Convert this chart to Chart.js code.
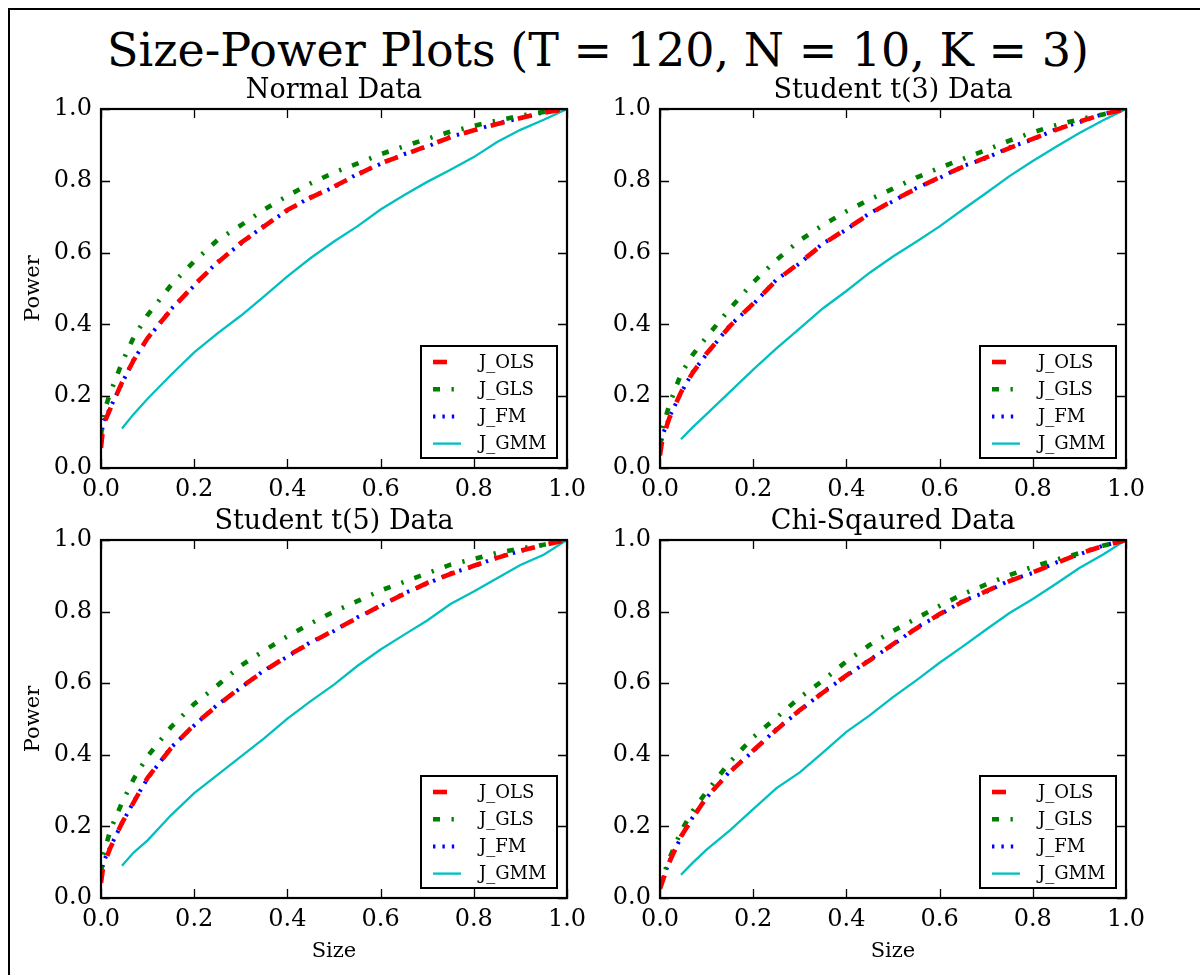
<!DOCTYPE html>
<html>
<head>
<meta charset="utf-8">
<script src="https://cdn.jsdelivr.net/npm/chart.js@4.4.1/dist/chart.umd.min.js"></script>
<style>
  html, body { margin: 0; padding: 0; background: #fff; overflow: hidden; }
  body { width: 1200px; height: 975px; position: relative; }
  #frame { position: absolute; left: 8px; top: 8px; width: 1200px; height: 1000px; border: 2px solid #000; box-sizing: border-box; }
  #suptitle { position: absolute; left: 0; width: 1196px; top: 20px; text-align: center;
    font-family: "DejaVu Serif"; font-size: 46px; line-height: 60px; color: #000; }
  canvas { position: absolute; }
</style>
</head>
<body>
<div id="frame"></div>
<div id="suptitle">Size-Power Plots (T = 120, N = 10, K = 3)</div>
<canvas id="c0"></canvas>
<canvas id="c1"></canvas>
<canvas id="c2"></canvas>
<canvas id="c3"></canvas>
<script>
// ---- data ----
const sizes = [0, 0.005, 0.02, 0.045, 0.07, 0.1, 0.15, 0.2, 0.25, 0.3, 0.35, 0.4, 0.45, 0.5, 0.55, 0.6, 0.65, 0.7, 0.75, 0.8, 0.85, 0.9, 0.95, 1.0];
const seriesNames = ["J_OLS", "J_GLS", "J_FM", "J_GMM"];
const panelTitles = ["Normal Data", "Student t(3) Data", "Student t(5) Data", "Chi-Sqaured Data"];
const tickValues = [0.0, 0.2, 0.4, 0.6, 0.8, 1.0];

// Normal Data
const normalOLS = [0.056, 0.12, 0.165, 0.238, 0.30, 0.362, 0.44, 0.51, 0.572, 0.627, 0.673, 0.719, 0.753, 0.784, 0.817, 0.849, 0.872, 0.897, 0.921, 0.941, 0.958, 0.975, 0.99, 1.0];
const normalGLS = [0.09, 0.15, 0.21, 0.293, 0.364, 0.426, 0.509, 0.576, 0.635, 0.676, 0.72, 0.758, 0.793, 0.823, 0.848, 0.874, 0.896, 0.917, 0.937, 0.953, 0.968, 0.981, 0.992, 1.0];
const normalFM  = [0.08, 0.13, 0.168, 0.236, 0.302, 0.36, 0.442, 0.508, 0.574, 0.625, 0.675, 0.717, 0.755, 0.782, 0.819, 0.847, 0.874, 0.895, 0.923, 0.94, 0.96, 0.974, 0.991, 1.0];
const normalGMM = [null, null, null, 0.11, 0.15, 0.193, 0.259, 0.322, 0.375, 0.424, 0.478, 0.534, 0.585, 0.631, 0.673, 0.72, 0.76, 0.797, 0.831, 0.866, 0.908, 0.942, 0.97, 1.0];

// Student t(3) Data
const t3OLS = [0.035, 0.08, 0.139, 0.211, 0.265, 0.319, 0.395, 0.458, 0.523, 0.572, 0.624, 0.666, 0.708, 0.745, 0.778, 0.81, 0.839, 0.865, 0.891, 0.917, 0.942, 0.965, 0.985, 1.0];
const t3GLS = [0.06, 0.11, 0.176, 0.262, 0.315, 0.365, 0.444, 0.517, 0.58, 0.634, 0.677, 0.715, 0.748, 0.778, 0.809, 0.836, 0.861, 0.886, 0.912, 0.935, 0.955, 0.971, 0.985, 1.0];
const t3FM  = [0.05, 0.09, 0.142, 0.209, 0.267, 0.317, 0.397, 0.456, 0.525, 0.57, 0.626, 0.664, 0.71, 0.743, 0.78, 0.808, 0.841, 0.863, 0.893, 0.915, 0.944, 0.963, 0.986, 1.0];
const t3GMM = [null, null, null, 0.08, 0.113, 0.15, 0.212, 0.274, 0.333, 0.389, 0.445, 0.493, 0.544, 0.589, 0.63, 0.673, 0.72, 0.766, 0.813, 0.855, 0.895, 0.933, 0.968, 1.0];

// Student t(5) Data
const t5OLS = [0.042, 0.09, 0.14, 0.21, 0.267, 0.336, 0.418, 0.484, 0.538, 0.589, 0.634, 0.676, 0.713, 0.748, 0.782, 0.817, 0.849, 0.88, 0.905, 0.928, 0.95, 0.97, 0.986, 1.0];
const t5GLS = [0.07, 0.12, 0.19, 0.266, 0.332, 0.396, 0.477, 0.542, 0.594, 0.649, 0.691, 0.731, 0.767, 0.8, 0.829, 0.859, 0.883, 0.907, 0.931, 0.947, 0.964, 0.976, 0.987, 1.0];
const t5FM  = [0.06, 0.1, 0.143, 0.208, 0.269, 0.334, 0.42, 0.482, 0.54, 0.587, 0.636, 0.674, 0.715, 0.746, 0.784, 0.815, 0.851, 0.878, 0.907, 0.926, 0.952, 0.969, 0.987, 1.0];
const t5GMM = [null, null, null, 0.09, 0.127, 0.161, 0.231, 0.293, 0.344, 0.395, 0.446, 0.501, 0.55, 0.596, 0.648, 0.694, 0.735, 0.775, 0.821, 0.856, 0.893, 0.93, 0.959, 1.0];

// Chi-Squared Data
const chiOLS = [0.026, 0.045, 0.1, 0.172, 0.223, 0.282, 0.352, 0.412, 0.47, 0.525, 0.574, 0.622, 0.664, 0.709, 0.753, 0.793, 0.828, 0.857, 0.885, 0.91, 0.935, 0.962, 0.983, 1.0];
const chiGLS = [0.03, 0.055, 0.11, 0.186, 0.243, 0.297, 0.38, 0.449, 0.504, 0.56, 0.608, 0.661, 0.707, 0.746, 0.781, 0.816, 0.849, 0.876, 0.902, 0.925, 0.945, 0.963, 0.984, 1.0];
const chiFM  = [0.03, 0.05, 0.102, 0.17, 0.225, 0.28, 0.354, 0.41, 0.472, 0.523, 0.576, 0.62, 0.666, 0.707, 0.755, 0.791, 0.83, 0.855, 0.887, 0.908, 0.937, 0.96, 0.984, 1.0];
const chiGMM = [null, null, null, 0.065, 0.098, 0.135, 0.189, 0.248, 0.307, 0.351, 0.407, 0.464, 0.51, 0.561, 0.608, 0.657, 0.703, 0.75, 0.796, 0.835, 0.878, 0.922, 0.959, 1.0];

const panelSeries = [
  [normalOLS, normalGLS, normalFM, normalGMM],
  [t3OLS, t3GLS, t3FM, t3GMM],
  [t5OLS, t5GLS, t5FM, t5GMM],
  [chiOLS, chiGLS, chiFM, chiGMM]
];

// ---- styles ----
const FONT = "DejaVu Serif";
const seriesStyle = [
  { color: "#ff0000", width: 4.6, dash: [14, 14] },
  { color: "#008000", width: 4.6, dash: [7, 11.5, 2.3, 11.5] },
  { color: "#0000ff", width: 4, dash: [2.4, 7] },
  { color: "#00bfbf", width: 2.3, dash: [] }
];

// ---- layout of each panel canvas (page coords) ----
const panels = [
  { left: 0,   top: 70,  width: 600, height: 430, padL: 21, padR: 33, padT: 39, padB: 0,  yW: 80, xH: 32, yTitle: true,  xTitle: false },
  { left: 590, top: 70,  width: 600, height: 430, padL: 0,  padR: 64, padT: 39, padB: 0,  yW: 70, xH: 32, yTitle: false, xTitle: false },
  { left: 0,   top: 500, width: 600, height: 475, padL: 21, padR: 33, padT: 40, padB: 11, yW: 80, xH: 66, yTitle: true,  xTitle: true },
  { left: 590, top: 500, width: 600, height: 475, padL: 0,  padR: 64, padT: 40, padB: 11, yW: 70, xH: 66, yTitle: false, xTitle: true }
];

const decorPlugin = {
  id: 'mplDecor',
  afterDatasetsDraw(chart, args, opts) {
    const ctx = chart.ctx;
    const a = chart.chartArea;
    const xs = chart.scales.x, ys = chart.scales.y;
    ctx.save();
    ctx.strokeStyle = '#000';
    ctx.lineWidth = 2.2;
    ctx.strokeRect(a.left, a.top, a.right - a.left, a.bottom - a.top);
    ctx.lineWidth = 1.3;
    const tl = 9;
    ctx.beginPath();
    tickValues.forEach(v => {
      const px = Math.round(xs.getPixelForValue(v)) + 0.5;
      ctx.moveTo(px, a.bottom); ctx.lineTo(px, a.bottom - tl);
      ctx.moveTo(px, a.top); ctx.lineTo(px, a.top + tl);
      const py = Math.round(ys.getPixelForValue(v)) + 0.5;
      ctx.moveTo(a.left, py); ctx.lineTo(a.left + tl, py);
      ctx.moveTo(a.right, py); ctx.lineTo(a.right - tl, py);
    });
    ctx.stroke();
    ctx.fillStyle = '#000';
    ctx.font = '27px "' + FONT + '"';
    ctx.textAlign = 'center';
    ctx.textBaseline = 'alphabetic';
    ctx.fillText(opts.title, (a.left + a.right) / 2, a.top - 11);
    const bw = 136, bh = 112;
    const bx = a.right - 10 - bw, by = a.bottom - 10 - bh;
    ctx.fillStyle = '#fff';
    ctx.fillRect(bx, by, bw, bh);
    ctx.lineWidth = 2;
    ctx.strokeStyle = '#000';
    ctx.strokeRect(bx, by, bw, bh);
    ctx.font = '18px "' + FONT + '"';
    ctx.textAlign = 'left';
    ctx.textBaseline = 'middle';
    chart.data.datasets.forEach((ds, i) => {
      const cy = by + 16 + i * 27.2;
      ctx.save();
      ctx.strokeStyle = ds.borderColor;
      ctx.lineWidth = ds.borderWidth;
      ctx.setLineDash(ds.borderDash || []);
      ctx.lineCap = 'butt';
      ctx.beginPath();
      ctx.moveTo(bx + 12, cy); ctx.lineTo(bx + 40, cy);
      ctx.stroke();
      ctx.restore();
      ctx.fillStyle = '#000';
      ctx.fillText(ds.label, bx + 58, cy + 1);
    });
    ctx.restore();
  }
};

panels.forEach((p, k) => {
  const cv = document.getElementById('c' + k);
  cv.style.left = p.left + 'px';
  cv.style.top = p.top + 'px';
  cv.style.width = p.width + 'px';
  cv.style.height = p.height + 'px';
  cv.width = p.width; cv.height = p.height;
  const datasets = panelSeries[k].map((arr, i) => ({
    label: seriesNames[i],
    data: sizes.map((s, j) => ({ x: s, y: arr[j] })).filter(d => d.y !== null),
    borderColor: seriesStyle[i].color,
    backgroundColor: seriesStyle[i].color,
    borderWidth: seriesStyle[i].width,
    borderDash: seriesStyle[i].dash,
    borderCapStyle: 'butt',
    pointRadius: 0,
    tension: 0,
    fill: false,
    clip: 0
  }));
  new Chart(cv, {
    type: 'line',
    data: { datasets },
    options: {
      responsive: false,
      animation: false,
      devicePixelRatio: 1,
      layout: { padding: { left: p.padL, right: p.padR, top: p.padT, bottom: p.padB } },
      plugins: {
        legend: { display: false },
        tooltip: { enabled: false },
        mplDecor: { title: panelTitles[k] }
      },
      scales: {
        x: {
          type: 'linear', min: 0, max: 1,
          afterFit: s => { s.height = p.xH; },
          afterBuildTicks: s => { s.ticks = tickValues.map(v => ({ value: v })); },
          grid: { display: false, drawTicks: false },
          border: { display: false },
          ticks: { padding: 7, color: '#000', font: { family: FONT, size: 24 }, maxRotation: 0, autoSkip: false,
                   callback: v => v.toFixed(1) },
          title: { display: p.xTitle, text: 'Size', color: '#000', font: { family: FONT, size: 21 }, padding: 0 }
        },
        y: {
          type: 'linear', min: 0, max: 1,
          afterFit: s => { s.width = p.yW; },
          afterBuildTicks: s => { s.ticks = tickValues.map(v => ({ value: v })); },
          grid: { display: false, drawTicks: false },
          border: { display: false },
          ticks: { padding: 9, color: '#000', font: { family: FONT, size: 24 }, autoSkip: false,
                   callback: v => v.toFixed(1) },
          title: { display: p.yTitle, text: 'Power', color: '#000', font: { family: FONT, size: 21 }, padding: 0 }
        }
      }
    },
    plugins: [decorPlugin]
  });
});
</script>
</body>
</html>
